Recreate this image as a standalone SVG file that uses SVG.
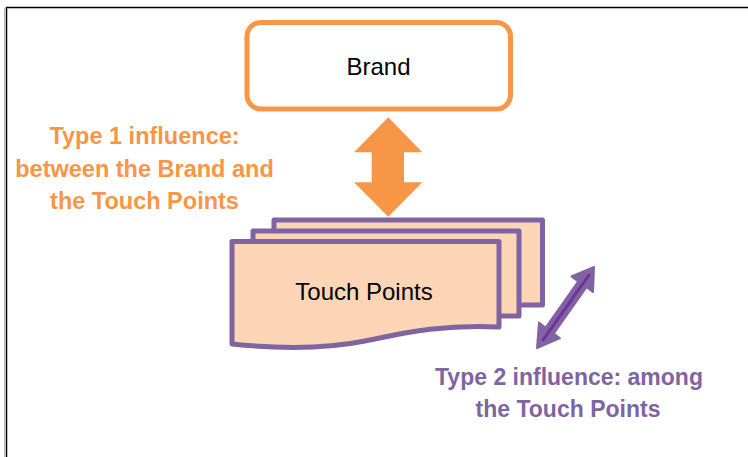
<svg xmlns="http://www.w3.org/2000/svg" width="748" height="457" viewBox="0 0 748 457">
<style>
.tp{fill:#FBD5B5;stroke:#8064A2;stroke-width:5;stroke-linejoin:round}
.lbl{font-family:"Liberation Sans",Arial,sans-serif;font-size:24px;fill:#000;text-anchor:middle}
.t1{font-family:"Liberation Sans",Arial,sans-serif;font-weight:bold;font-size:23.5px;fill:#F79646;text-anchor:middle}
.t2{font-family:"Liberation Sans",Arial,sans-serif;font-weight:bold;font-size:23px;fill:#8064A2;text-anchor:middle}
</style>
<rect width="748" height="457" fill="#fff"/>
<line x1="4.5" y1="8" x2="4.5" y2="457" stroke="#bbb" stroke-width="1"/>
<path d="M6.5,457 V7.5 H748" fill="none" stroke="#000" stroke-width="1.5"/>
<g id="brand">
<rect x="247" y="22.5" width="263.5" height="86.5" rx="14" fill="#fff" stroke="#F79646" stroke-width="5"/>
<text class="lbl" x="378.5" y="75">Brand</text>
</g>
<g id="touchpoints">
<rect class="tp" x="274" y="220" width="268.5" height="85"/>
<rect class="tp" x="253" y="231" width="266" height="85"/>
<path class="tp" d="M232,241.5 H499 V327 C440,324 400,334 365,341 C325,349 280,349 232,344 Z"/>
<text class="lbl" x="364" y="300">Touch Points</text>
</g>
<g id="connectors">
<polygon fill="#F79646" points="388.3,117.3 422.3,152.3 404,152.3 404,182.3 422.3,182.3 388.3,216.7 354,182.3 371.7,182.3 371.7,152.3 354,152.3"/>
<polygon fill="#8064A2" stroke="#8064A2" stroke-width="2" stroke-linejoin="round" points="594,267 593,292 586.5,287.2 553.7,333.6 560,338.2 537,348 539,322.6 545.5,327.8 578.3,281.4 571.5,276.5"/>
<line x1="543" y1="340" x2="589" y2="275" stroke="#7030A0" stroke-width="3" stroke-linecap="round"/>
</g>
<g id="labels">
<text class="t1" x="144.5" y="144">Type 1 influence:</text>
<text class="t1" x="144.5" y="176.5">between the Brand and</text>
<text class="t1" x="144.5" y="209">the Touch Points</text>
<text class="t2" x="569" y="384.5">Type 2 influence: among</text>
<text class="t2" x="568" y="416.5">the Touch Points</text>
</g>
</svg>
